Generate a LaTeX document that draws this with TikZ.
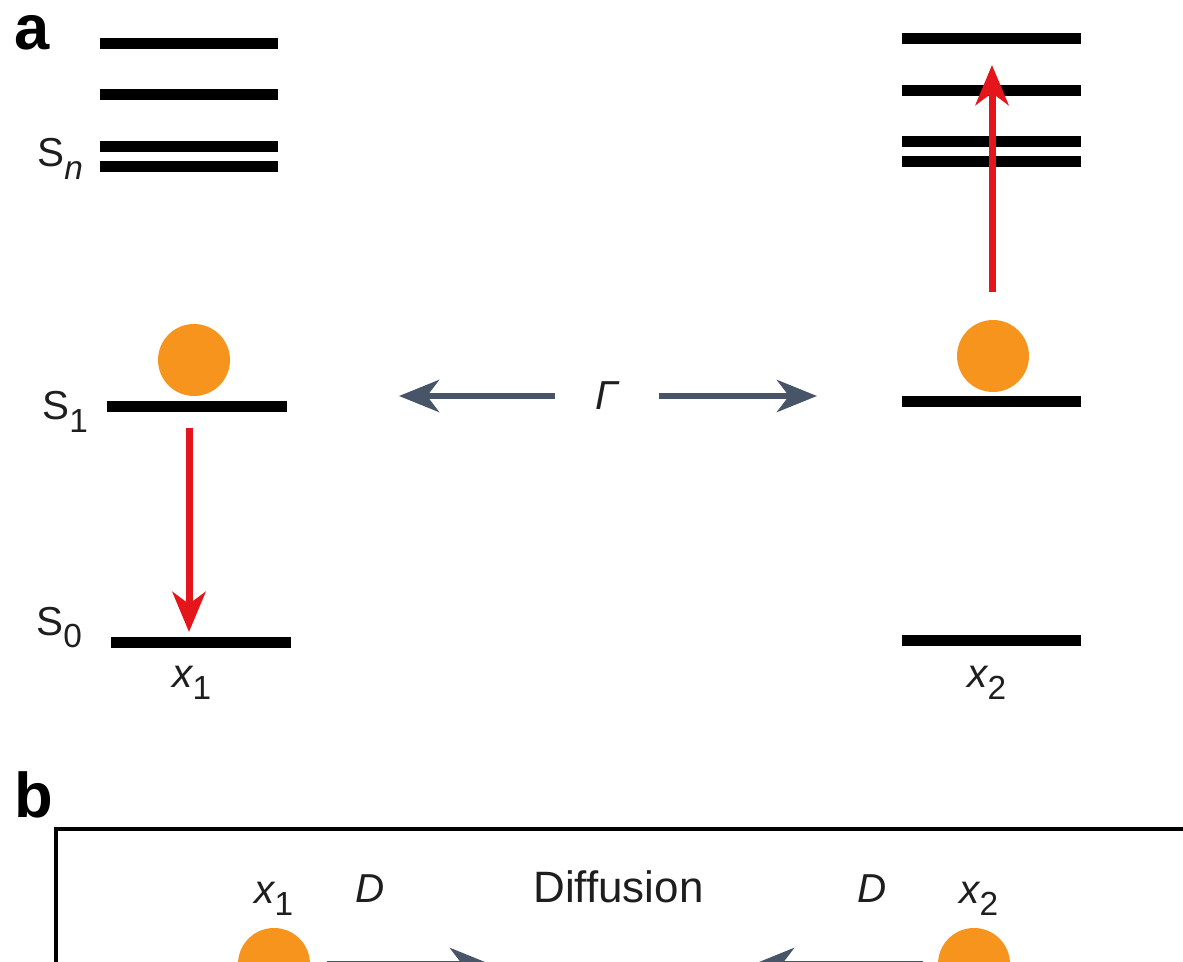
\documentclass[tikz,border=0pt]{standalone}
\usepackage{fontspec}
\setmainfont{Liberation Sans}
\usetikzlibrary{arrows.meta,positioning}
\definecolor{dotorange}{RGB}{247,148,30}
\definecolor{jumpred}{RGB}{228,22,28}
\definecolor{slate}{RGB}{72,85,104}
\definecolor{labelgray}{RGB}{30,30,30}
\newcommand{\lowsub}[1]{\raisebox{-0.3em}{\fontsize{19}{21}\selectfont #1}}
\tikzset{
  enline/.style={line width=0.22cm},
  dot/.style={circle,fill=dotorange,minimum size=1.44cm,inner sep=0pt},
  jump/.style={jumpred,line width=0.14cm,-{Stealth[length=0.8cm,width=0.66cm,inset=0.24cm]}},
  hop/.style={slate,line width=0.13cm,-{Stealth[length=0.8cm,width=0.64cm,inset=0.24cm]}},
  lbl/.style={font=\fontsize{23}{27}\selectfont,text=labelgray,inner sep=0pt},
  panel/.style={font=\fontsize{36}{40}\selectfont\bfseries,inner sep=0pt},
}
\begin{document}
\begin{tikzpicture}[x=0.02cm,y=-0.02cm]
\useasboundingbox (0,0) rectangle (1183,962);
\clip (0,0) rectangle (1183,962);
% panel a
\node[panel,anchor=base west] (lbla) at (14,50) {a};
\foreach \y in {44,95,147,167}{
  \draw[enline] (100,\y) -- (278,\y);
}
\foreach \y in {39,91,142,162}{
  \draw[enline] (902,\y) -- (1081,\y);
}
\draw[enline] (107,407) -- (287,407);
\draw[enline] (111,642) -- (291,642);
\draw[enline] (902,402) -- (1081,402);
\draw[enline] (902,640) -- (1081,640);
\node[lbl,anchor=base west] (sn) at (37,167) {S\lowsub{\itshape n}};
\node[lbl,anchor=base west] (s1) at (42,420) {S\lowsub{1}};
\node[lbl,anchor=base west] (s0) at (36,635) {S\lowsub{0}};
\node[lbl,anchor=base west] (xa) at (172,687) {\itshape x\lowsub{\upshape 1}};
\node[lbl,anchor=base west] (xb) at (967,687) {\itshape x\lowsub{\upshape 2}};
\node[dot] (e1) at (194,360) {};
\node[dot] (e2) at (993,356) {};
\coordinate (decaytop) at (189,428);
\coordinate (decaybot) at (189,632);
\coordinate (excbot) at (992,292);
\coordinate (exctop) at (992,65);
\draw[jump] (decaytop) -- (decaybot);
\draw[jump] (excbot) -- (exctop);
\node[lbl,inner xsep=0.8cm] (gam) at (607,396) {\itshape Γ};
\coordinate (gleft) at (399,396);
\coordinate (gright) at (817,396);
\draw[hop] (gam) -- (gleft);
\draw[hop] (gam) -- (gright);
% panel b
\node[panel,anchor=base west] (lblb) at (14,817) {b};
\draw[line width=0.08cm] (56,1000) -- (56,829) -- (1200,829);
\node[lbl,anchor=base west] (xc) at (254,903) {\itshape x\lowsub{\upshape 1}};
\node[lbl,anchor=base west] (da) at (355,902) {\itshape D};
\node[lbl,anchor=base west,font=\fontsize{25}{29}\selectfont] (diff) at (533,902) {Diffusion};
\node[lbl,anchor=base west] (db) at (857,902) {\itshape D};
\node[lbl,anchor=base west] (xd) at (959,903) {\itshape x\lowsub{\upshape 2}};
\node[dot] (d1) at (274,964) {};
\node[dot] (d2) at (974,964) {};
\coordinate (tipr) at (490,964);
\coordinate (tipl) at (754,964);
\draw[hop,shorten <=0.34cm] (d1) -- (tipr);
\draw[hop,shorten <=0.3cm] (d2) -- (tipl);
\end{tikzpicture}
\end{document}
